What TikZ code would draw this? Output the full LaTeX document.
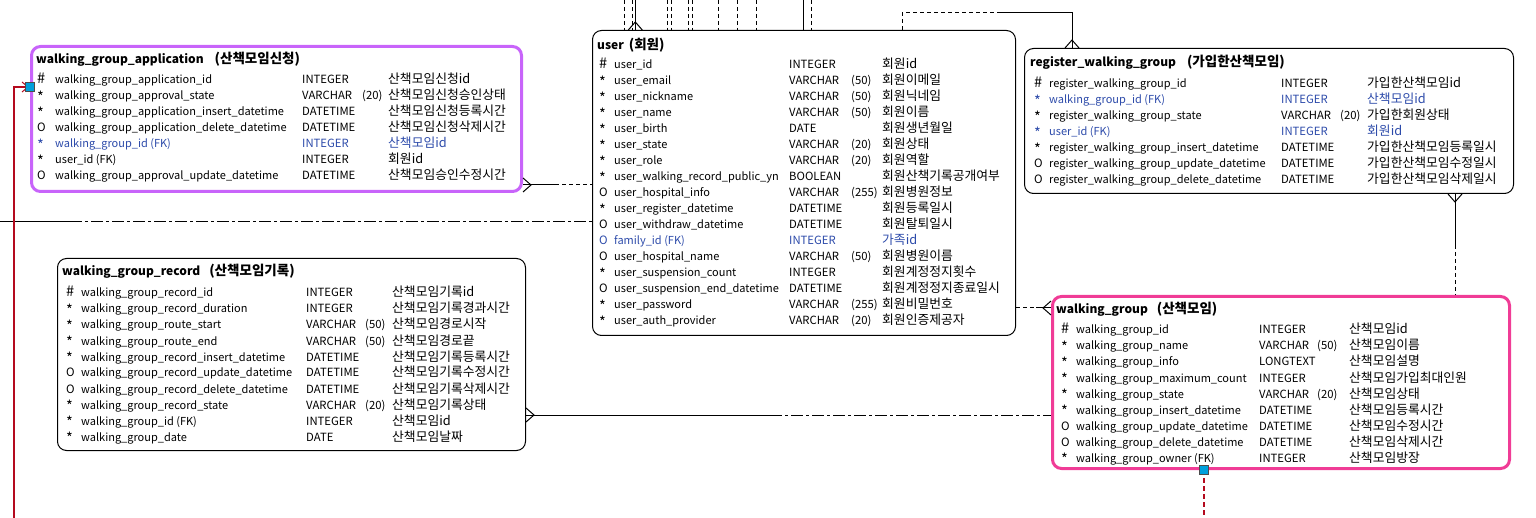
\documentclass[tikz,border=0pt]{standalone}
\usepackage{fontspec}
\setmainfont{Noto Sans CJK KR}
\usetikzlibrary{calc}
\definecolor{fkblue}{RGB}{45,75,170}
\definecolor{wgpink}{RGB}{240,60,150}
\definecolor{apppurple}{RGB}{200,100,250}
\definecolor{relred}{RGB}{180,10,30}
\definecolor{keyblue}{RGB}{0,160,220}
\newcommand\opt{{\fontsize{11.5}{12}\selectfont O}}
\newcommand\req{\raisebox{-2.5pt}{*}}
\newcommand\erows[8]{%
 \foreach[count=\i] \s/\n/\t/\l/\c/\k in {#8}{%
  \pgfmathsetmacro\yy{#2+16*(\i-1)}%
  \node[cellS,text=\k] (#1-s\i) at (#3,\yy) {\s};
  \node[cellN,text=\k] (#1-n\i) at (#4,\yy) {\n};
  \node[cellT,text=\k] (#1-t\i) at (#5,\yy) {\t};
  \node[cellT,text=\k] (#1-l\i) at (#6,\yy) {\l};
  \node[cellC,text=\k] (#1-c\i) at (#7,\yy) {\c};
 }}
\newcommand\footE[1]{\draw[conn] (#1) ++(0,-7) -- ++(8,7) -- ++(-8,7);}
\newcommand\footW[1]{\draw[conn] (#1) ++(0,-7) -- ++(-8,7) -- ++(8,7);}
\newcommand\footN[1]{\draw[conn] (#1) ++(-7,0) -- ++(7,-8) -- ++(7,8);}
\newcommand\footS[1]{\draw[conn] (#1) ++(-7,0) -- ++(7,8) -- ++(7,-8);}
\newcommand\kor[1]{{\fontsize{13.5}{15}\selectfont #1}}
\begin{document}
\begin{tikzpicture}[x=1pt,y=-1pt,
  cell/.style={anchor=west, inner sep=0pt, text height=8pt, text depth=2pt, yshift=-3pt},
  cellS/.style={cell, font=\fontsize{14.5}{15}\selectfont},
  cellN/.style={cell, font=\fontsize{11}{13}\selectfont},
  cellT/.style={cell, font=\fontsize{11.3}{13}\selectfont},
  cellC/.style={cell, font=\fontsize{12.8}{13}\selectfont},
  ttl/.style={cell, font=\fontsize{12}{14}\selectfont\bfseries},
  tbl/.style={draw, rounded corners=9pt, fill=white, anchor=north west, inner sep=0pt, line width=1pt},
  conn/.style={line width=1pt, black},
  dsh/.style={conn, dash pattern=on 4pt off 3pt},
  dashdot/.style={conn, dash pattern=on 12pt off 3pt on 3pt off 3pt},
  keysq/.style={draw=black!70, fill=keyblue, minimum size=9pt, inner sep=0pt, line width=0.6pt},
  relline/.style={draw=relred, line width=1.6pt}]
\useasboundingbox (0,0) rectangle (1536,518);

% ---------- tables (boxes) ----------
\node[tbl, draw=apppurple, line width=3pt, minimum width=490pt, minimum height=145pt] (app) at (30,45) {};
\node[tbl, minimum width=423pt, minimum height=305pt] (user) at (592,30) {};
\node[tbl, minimum width=489pt, minimum height=145pt] (reg) at (1024,48) {};
\node[tbl, draw=wgpink, line width=3pt, minimum width=457pt, minimum height=172pt] (wg) at (1051,295) {};
\node[tbl, minimum width=468pt, minimum height=192pt] (rec) at (57,258) {};

% ---------- connector free ends ----------
\foreach \xx/\nm in {624.3/t1,632.3/t2,635.3/t3,667.7/t4,671/t5,688.3/t6,692/t7,718.3/t8,737.7/t9,756.3/t10,803.7/t11,811.3/t12}{
  \coordinate (\nm) at (\xx,0);
}
\coordinate (l0) at (0,222);
\coordinate (l1) at (70,222);
\coordinate (m1) at (555,185);
\coordinate (m2) at (770,415);
\coordinate (m3) at (1036,308);
\coordinate (u1) at (902,13);
\coordinate (u2) at (997,13);
\coordinate (u3) at (1072,13);
\coordinate (r1) at (1455,245);
\coordinate (red1) at (14,87);
\coordinate (red2) at (14,518);
\coordinate (red3) at (1204,518);

% ---------- connectors ----------
\foreach \nm in {t1,t2,t4,t5,t6,t7,t8,t9,t10,t12}{
  \draw[dsh] (\nm) -- (\nm |- user.north);
}
\foreach \nm in {t3,t11}{
  \draw[conn] (\nm) -- (\nm |- user.north);
}
\footN{t3 |- user.north}
% application -> user
\draw[conn] (app.east |- m1) -- (m1);
\draw[dsh] (m1) -- (user.west |- m1);
\footE{app.east |- m1}
% left line into user
\draw[conn] (l0) -- (l1);
\draw[dashdot] (l1) -- (user.west |- l1);
% record -> walking_group
\draw[conn] (rec.east |- m2) -- (m2);
\draw[dashdot] (m2) -- (wg.west |- m2);
\footE{rec.east |- m2}
% user -> walking_group
\draw[dsh] (user.east |- m3) -- (m3);
\draw[conn] (m3) -- (wg.west |- m3);
\footW{wg.west |- m3}
% user -> register_walking_group
\draw[dsh] (u1 |- user.north) -- (u1) -- (u2);
\draw[conn] (u2) -- (u3) -- (u3 |- reg.north);
\footN{u3 |- reg.north}
% register_walking_group -> walking_group
\draw[conn] (r1 |- reg.south) -- (r1);
\draw[dsh] (r1) -- (r1 |- wg.north);
\footS{r1 |- reg.south}
% red relations
\draw[relline] (app.west |- red1) -- (red1) -- (red2);
\draw[relred, line width=1pt] ($(app.west |- red1)+(-8,-5)$) -- ($(app.west |- red1)+(-2,0)$) -- ($(app.west |- red1)+(-8,5)$);
\node[keysq] (appkey) at (app.west |- red1) {};
\draw[relline, dash pattern=on 5pt off 3pt] (wg.south -| red3) -- (red3);
\node[keysq] (wgkey) at (wg.south -| red3) {};

% ---------- titles ----------
\node[ttl] (app-title) at (36,58) {walking\_group\_application\hspace{11pt}\kor{(산책모임신청)}};
\node[ttl] (user-title) at (597,44) {user\hspace{5pt}\kor{(회원)}};
\node[ttl] (reg-title) at (1030,61) {register\_walking\_group\hspace{11pt}\kor{(가입한산책모임)}};
\node[ttl] (wg-title) at (1056,308) {walking\_group\hspace{9pt}\kor{(산책모임)}};
\node[ttl] (rec-title) at (62,270) {walking\_group\_record\hspace{9pt}\kor{(산책모임기록)}};

% ---------- rows ----------
\erows{app}{78}{37}{55}{302}{362}{388}{%
 \#/walking\_group\_application\_id/INTEGER//산책모임신청id/black,
 \req/walking\_group\_approval\_state/VARCHAR/(20)/산책모임신청승인상태/black,
 \req/walking\_group\_application\_insert\_datetime/DATETIME//산책모임신청등록시간/black,
 \opt/walking\_group\_application\_delete\_datetime/DATETIME//산책모임신청삭제시간/black,
 \req/walking\_group\_id (FK)/INTEGER//산책모임id/fkblue,
 \req/user\_id (FK)/INTEGER//회원id/black,
 \opt/walking\_group\_approval\_update\_datetime/DATETIME//산책모임승인수정시간/black}

\erows{user}{63}{599}{614}{789}{851}{882}{%
 \#/user\_id/INTEGER//회원id/black,
 \req/user\_email/VARCHAR/(50)/회원이메일/black,
 \req/user\_nickname/VARCHAR/(50)/회원닉네임/black,
 \req/user\_name/VARCHAR/(50)/회원이름/black,
 \req/user\_birth/DATE//회원생년월일/black,
 \req/user\_state/VARCHAR/(20)/회원상태/black,
 \req/user\_role/VARCHAR/(20)/회원역할/black,
 \req/user\_walking\_record\_public\_yn/BOOLEAN//회원산책기록공개여부/black,
 \opt/user\_hospital\_info/VARCHAR/(255)/회원병원정보/black,
 \req/user\_register\_datetime/DATETIME//회원등록일시/black,
 \opt/user\_withdraw\_datetime/DATETIME//회원탈퇴일시/black,
 \opt/family\_id (FK)/INTEGER//가족id/fkblue,
 \opt/user\_hospital\_name/VARCHAR/(50)/회원병원이름/black,
 \req/user\_suspension\_count/INTEGER//회원계정정지횟수/black,
 \opt/user\_suspension\_end\_datetime/DATETIME//회원계정정지종료일시/black,
 \req/user\_password/VARCHAR/(255)/회원비밀번호/black,
 \req/user\_auth\_provider/VARCHAR/(20)/회원인증제공자/black}

\erows{reg}{82}{1034}{1049}{1281}{1340}{1367}{%
 \#/register\_walking\_group\_id/INTEGER//가입한산책모임id/black,
 \req/walking\_group\_id (FK)/INTEGER//산책모임id/fkblue,
 \req/register\_walking\_group\_state/VARCHAR/(20)/가입한회원상태/black,
 \req/user\_id (FK)/INTEGER//회원id/fkblue,
 \req/register\_walking\_group\_insert\_datetime/DATETIME//가입한산책모임등록일시/black,
 \opt/register\_walking\_group\_update\_datetime/DATETIME//가입한산책모임수정일시/black,
 \opt/register\_walking\_group\_delete\_datetime/DATETIME//가입한산책모임삭제일시/black}

\erows{wg}{328}{1061}{1076}{1259}{1317}{1349}{%
 \#/walking\_group\_id/INTEGER//산책모임id/black,
 \req/walking\_group\_name/VARCHAR/(50)/산책모임이름/black,
 \req/walking\_group\_info/LONGTEXT//산책모임설명/black,
 \req/walking\_group\_maximum\_count/INTEGER//산책모임가입최대인원/black,
 \req/walking\_group\_state/VARCHAR/(20)/산책모임상태/black,
 \req/walking\_group\_insert\_datetime/DATETIME//산책모임등록시간/black,
 \opt/walking\_group\_update\_datetime/DATETIME//산책모임수정시간/black,
 \opt/walking\_group\_delete\_datetime/DATETIME//산책모임삭제시간/black,
 \req/walking\_group\_owner (FK)/INTEGER//산책모임방장/black}

\erows{rec}{291}{66}{81}{306}{365}{392}{%
 \#/walking\_group\_record\_id/INTEGER//산책모임기록id/black,
 \req/walking\_group\_record\_duration/INTEGER//산책모임기록경과시간/black,
 \req/walking\_group\_route\_start/VARCHAR/(50)/산책모임경로시작/black,
 \req/walking\_group\_route\_end/VARCHAR/(50)/산책모임경로끝/black,
 \req/walking\_group\_record\_insert\_datetime/DATETIME//산책모임기록등록시간/black,
 \opt/walking\_group\_record\_update\_datetime/DATETIME//산책모임기록수정시간/black,
 \opt/walking\_group\_record\_delete\_datetime/DATETIME//산책모임기록삭제시간/black,
 \req/walking\_group\_record\_state/VARCHAR/(20)/산책모임기록상태/black,
 \req/walking\_group\_id (FK)/INTEGER//산책모임id/black,
 \req/walking\_group\_date/DATE//산책모임날짜/black}
\end{tikzpicture}
\end{document}
